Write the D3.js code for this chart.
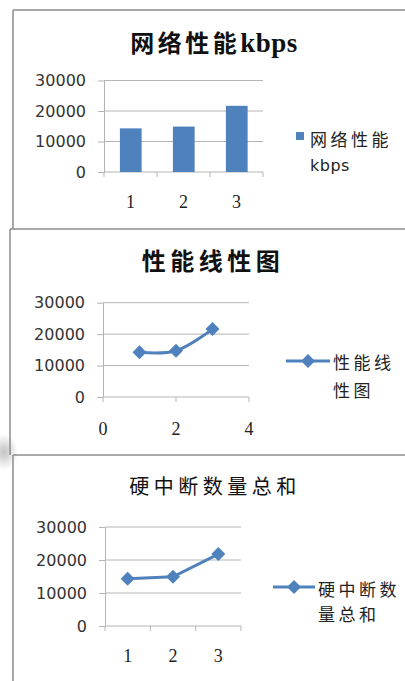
<!DOCTYPE html>
<html>
<head>
<meta charset="utf-8">
<script src="https://cdn.jsdelivr.net/npm/d3@7"></script>
<style>
  body { margin: 0; background: #fff; }
  svg { display: block; }
  .cn { font-family: "Noto Sans CJK SC", sans-serif; }
  .num { font-family: "DejaVu Sans", sans-serif; }
  .ser { font-family: "Liberation Serif", serif; }
</style>
</head>
<body>
<svg id="chart" width="405" height="681"></svg>
<script>
(function(){
  'use strict';

  // values
  var categories = [1, 2, 3];
  var kbpsValues = [14300, 14900, 21700];
  var perfValues = [14200, 14700, 21600];
  var irqValues = [14300, 14900, 21800];
  var yTicks = [0, 10000, 20000, 30000];
  var perfXTicks = [0, 2, 4];

  var blue = "#4f81bd";
  var grid = "#b4b4b4";
  var frame = "#8c8c8c";

  var svg = d3.select("#chart");

  // soft shadow near the left edge between panels 2 and 3
  var defs = svg.append("defs");
  var rg = defs.append("radialGradient").attr("id", "shade");
  rg.append("stop").attr("offset", "0%").attr("stop-color", "#999").attr("stop-opacity", 0.6);
  rg.append("stop").attr("offset", "100%").attr("stop-color", "#999").attr("stop-opacity", 0);
  svg.append("ellipse").attr("cx", 4).attr("cy", 452).attr("rx", 14).attr("ry", 18)
    .attr("fill", "url(#shade)");

  // panel frames
  var frames = [
    [13, 10, 405, 10], [13, 10, 13, 229], [10, 229, 405, 229],
    [10, 229, 10, 455], [13, 455, 405, 455], [13, 455, 13, 681]
  ];
  svg.selectAll("line.frame").data(frames).enter().append("line")
    .attr("class", "frame")
    .attr("x1", function(d){ return d[0]; }).attr("y1", function(d){ return d[1]; })
    .attr("x2", function(d){ return d[2]; }).attr("y2", function(d){ return d[3]; })
    .attr("stroke", frame).attr("stroke-width", 1.5);

  function title(parts, cx, cy, size, weight, spacing) {
    var t = svg.append("text").attr("class", "cn")
      .attr("x", cx).attr("y", cy + size * 0.36)
      .attr("text-anchor", "middle")
      .attr("font-size", size).attr("font-weight", weight)
      .attr("fill", "#111");
    parts.forEach(function(p){
      var s = t.append("tspan").text(p.text);
      if (p.latin) s.attr("font-family", "Liberation Serif, serif").attr("letter-spacing", 0.5).attr("font-size", size + 3);
      else s.attr("letter-spacing", spacing);
    });
  }

  function yAxis(y, x0, x1) {
    // gridlines
    svg.append("g").selectAll("line").data(yTicks.slice(1)).enter().append("line")
      .attr("x1", x0).attr("x2", x1)
      .attr("y1", function(d){ return y(d); }).attr("y2", function(d){ return y(d); })
      .attr("stroke", grid).attr("stroke-width", 1);

    var g = svg.append("g").attr("transform", "translate(" + x0 + ",0)")
      .call(d3.axisLeft(y).tickValues(yTicks).tickSize(6).tickSizeOuter(0).tickPadding(12)
        .tickFormat(d3.format("d")));
    g.select(".domain").attr("stroke", grid);
    g.selectAll(".tick line").attr("stroke", grid);
    g.selectAll(".tick text").attr("class", "num").attr("font-size", 16).attr("fill", "#333");
    // x axis baseline
    svg.append("line").attr("x1", x0).attr("x2", x1)
      .attr("y1", y(0)).attr("y2", y(0)).attr("stroke", grid);
  }

  function legendText(lines, x, cy, gap) {
    var t = svg.append("text").attr("class", "cn")
      .attr("font-size", 17).attr("fill", "#222");
    lines.forEach(function(l, i){
      var latin = /^[a-z]+$/.test(l);
      t.append("tspan").attr("x", x).attr("y", cy + i * gap + 6)
        .attr("letter-spacing", latin ? 0.5 : 3.5)
        .attr("font-family", latin ? "DejaVu Sans, sans-serif" : null)
        .attr("font-size", latin ? 16 : null)
        .text(l);
    });
  }

  function bandTicks(x, yBase) {
    var pos = categories.map(function(c){ return x(c); });
    pos.push(x.range()[1]);
    svg.append("g").selectAll("line").data(pos).enter().append("line")
      .attr("x1", function(d){ return d; }).attr("x2", function(d){ return d; })
      .attr("y1", yBase).attr("y2", yBase + 5)
      .attr("stroke", grid);
    svg.append("g").selectAll("text").data(categories).enter().append("text")
      .attr("class", "ser")
      .attr("x", function(d){ return x(d) + x.bandwidth() / 2; })
      .attr("y", yBase + 36)
      .attr("text-anchor", "middle").attr("font-size", 18).attr("fill", "#222")
      .text(function(d){ return d; });
  }

  function diamonds(pts) {
    svg.append("g").selectAll("path").data(pts).enter().append("path")
      .attr("d", d3.symbol().type(d3.symbolDiamond2).size(125))
      .attr("transform", function(d){ return "translate(" + d[0] + "," + d[1] + ")"; })
      .attr("fill", blue);
  }

  function lineLegend(x0, x1, cy) {
    svg.append("line").attr("x1", x0).attr("x2", x1).attr("y1", cy).attr("y2", cy)
      .attr("stroke", blue).attr("stroke-width", 3);
    diamonds([[(x0 + x1) / 2, cy]]);
  }

  // ---- panel 1: bar chart ----
  (function(){
    var x = d3.scaleBand().domain(categories).range([104, 263]);
    var y = d3.scaleLinear().domain([0, 30000]).range([172, 80.5]);
    title([{text: "网络性能"}, {text: "kbps", latin: true}], 214, 43, 24, "bold", 3.5);
    yAxis(y, 104, 263);
    var bw = x.bandwidth();
    svg.append("g").selectAll("rect").data(kbpsValues).enter().append("rect")
      .attr("x", function(d, i){ return x(categories[i]) + bw * 0.3; })
      .attr("width", bw * 0.41)
      .attr("y", function(d){ return y(d); })
      .attr("height", function(d){ return y(0) - y(d); })
      .attr("fill", blue);
    bandTicks(x, 172);
    svg.append("rect").attr("x", 296).attr("y", 132).attr("width", 8).attr("height", 8).attr("fill", blue);
    legendText(["网络性能", "kbps"], 310, 140, 25);
  })();

  // ---- panel 2: smooth line on numeric x ----
  (function(){
    var x = d3.scaleLinear().domain([0, 4]).range([103, 249]);
    var y = d3.scaleLinear().domain([0, 30000]).range([397, 302.7]);
    title([{text: "性能线性图"}], 213, 261, 24, "bold", 4.5);
    yAxis(y, 103, 249);
    svg.append("g").selectAll("line").data(perfXTicks).enter().append("line")
      .attr("x1", function(d){ return x(d); }).attr("x2", function(d){ return x(d); })
      .attr("y1", y(0)).attr("y2", y(0) + 5).attr("stroke", grid);
    svg.append("g").selectAll("text").data(perfXTicks).enter().append("text")
      .attr("class", "ser")
      .attr("x", function(d){ return x(d); }).attr("y", y(0) + 38)
      .attr("text-anchor", "middle").attr("font-size", 18).attr("fill", "#222")
      .text(function(d){ return d; });
    var pts = perfValues.map(function(v, i){ return [x(categories[i]), y(v)]; });
    svg.append("path").datum(pts)
      .attr("d", d3.line().curve(d3.curveCatmullRom.alpha(0.5)))
      .attr("fill", "none").attr("stroke", blue).attr("stroke-width", 3);
    diamonds(pts);
    lineLegend(286, 330, 361);
    legendText(["性能线", "性图"], 333, 363, 28);
  })();

  // ---- panel 3: straight line on categories ----
  (function(){
    var x = d3.scaleBand().domain(categories).range([105, 241]);
    var y = d3.scaleLinear().domain([0, 30000]).range([626, 527]);
    title([{text: "硬中断数量总和"}], 215, 487, 20, "normal", 4.5);
    yAxis(y, 105, 241);
    bandTicks(x, 626);
    var pts = irqValues.map(function(v, i){ return [x(categories[i]) + x.bandwidth() / 2, y(v)]; });
    svg.append("path").datum(pts)
      .attr("d", d3.line())
      .attr("fill", "none").attr("stroke", blue).attr("stroke-width", 3);
    diamonds(pts);
    lineLegend(273, 315, 587);
    legendText(["硬中断数", "量总和"], 318, 590, 25);
  })();

})();
</script>
</body>
</html>
